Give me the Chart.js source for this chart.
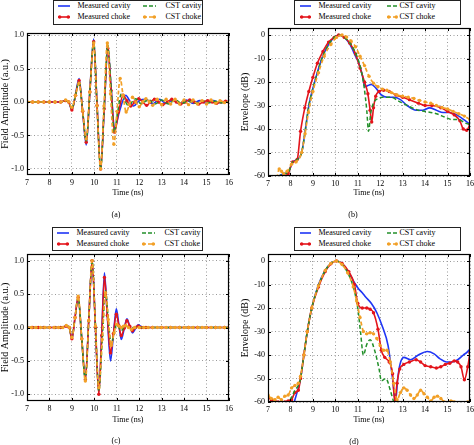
<!DOCTYPE html>
<html>
<head>
<meta charset="utf-8">
<script src="https://cdn.jsdelivr.net/npm/chart.js@4.4.1/dist/chart.umd.min.js"></script>
<style>
  body { margin: 0; background: #fff; }
  #fig { position: relative; width: 474px; height: 445px; overflow: hidden; background: #fff;
         font-family: 'Liberation Serif', 'Times New Roman', serif; color: #000; }
  canvas { position: absolute; }
  .legend { position: absolute; box-sizing: border-box; border: 1.5px solid #222; background: #fff; }
  .legend svg { position: absolute; }
  .legend span, .cap { position: absolute; font-size: 8px; line-height: 10px; white-space: nowrap; }
  .cap { width: 40px; text-align: center; }
</style>
</head>
<body>
<div id="fig">
  <canvas id="chartA" width="237" height="222" style="left:0;top:0"></canvas>
  <canvas id="chartB" width="237" height="222" style="left:237px;top:0"></canvas>
  <canvas id="chartC" width="237" height="223" style="left:0;top:222px"></canvas>
  <canvas id="chartD" width="237" height="223" style="left:237px;top:222px"></canvas>
</div>
<script>
// Series names (legend order)
const seriesLabels = ['Measured cavity', 'Measured choke', 'CST cavity', 'CST choke'];

// Axis ranges
const timeRange = [7, 16];
const ampRangeA = [-1.09, 1.03];
const ampRangeC = [-1.1, 1.1];
const dbRange = [-60, 3];

// ---- (a) field amplitude, first measurement ----
const tA_cav = [7, 8, 8.5, 8.72, 8.86, 9.0, 9.16, 9.32, 9.48, 9.64, 9.8, 9.97, 10.12, 10.28, 10.44, 10.6, 10.75, 10.9, 11.12, 11.4, 11.57, 11.75, 12.0, 12.3, 12.6, 12.9, 13.2, 13.5, 13.8, 14.1, 14.4, 14.7, 15.0, 15.3, 15.6, 15.9, 16];
const vA_cav = [0, 0, 0, 0.02, 0, -0.12, 0.11, 0.35, -0.14, -0.64, 0.15, 0.94, -0.03, -1.0, -0.1, 0.8, 0.2, -0.4, -0.14, 0.1, 0.02, -0.06, 0.02, 0.04, -0.03, 0.04, -0.02, 0.03, -0.03, 0.03, -0.02, 0.02, -0.02, 0.02, -0.01, 0.01, 0];
const tA_choke = [7, 7.25, 7.5, 7.75, 8, 8.25, 8.5, 8.72, 8.86, 9.0, 9.16, 9.32, 9.48, 9.64, 9.8, 9.97, 10.12, 10.28, 10.44, 10.6, 10.75, 10.9, 11.08, 11.28, 11.45, 11.62, 11.8, 11.98, 12.15, 12.33, 12.5, 12.68, 12.85, 13.05, 13.25, 13.45, 13.65, 13.85, 14.05, 14.25, 14.45, 14.65, 14.85, 15.05, 15.25, 15.45, 15.65, 15.85, 16];
const vA_choke = [0, 0, 0, 0, 0, 0, 0, 0.02, 0, -0.12, 0.1, 0.32, -0.14, -0.6, 0.15, 0.9, -0.05, -1.0, -0.1, 0.8, 0.17, -0.45, -0.15, 0.1, 0.02, -0.06, 0, 0.05, 0, -0.05, 0, 0.04, 0, -0.04, 0, 0.04, 0, -0.03, 0, 0.03, 0, -0.03, 0, 0.02, 0, -0.02, 0, 0.01, 0];
const tA_cstCav = [7, 8, 8.5, 8.72, 8.86, 9.0, 9.16, 9.32, 9.48, 9.64, 9.8, 9.97, 10.12, 10.28, 10.44, 10.6, 10.75, 10.88, 11.04, 11.2, 11.35, 11.5, 11.68, 11.85, 12.1, 12.4, 12.7, 13.0, 13.3, 13.6, 13.9, 14.2, 14.5, 14.8, 15.1, 15.4, 15.7, 16];
const vA_cstCav = [0, 0, 0, 0.02, 0, -0.1, 0.1, 0.3, -0.14, -0.58, 0.16, 0.9, -0.05, -1.0, -0.08, 0.85, 0.2, -0.45, -0.15, 0.12, 0.03, -0.05, 0, 0.05, -0.03, 0.04, -0.03, 0.03, -0.03, 0.03, -0.02, 0.02, -0.02, 0.02, -0.01, 0.01, -0.01, 0];
const tA_cstChoke = [7, 7.25, 7.5, 7.75, 8, 8.25, 8.5, 8.72, 8.86, 9.0, 9.16, 9.32, 9.48, 9.64, 9.8, 9.97, 10.12, 10.28, 10.43, 10.58, 10.72, 10.87, 11.01, 11.15, 11.28, 11.42, 11.56, 11.7, 11.85, 12.0, 12.15, 12.3, 12.45, 12.6, 12.8, 13.0, 13.2, 13.4, 13.6, 13.8, 14.0, 14.2, 14.4, 14.6, 14.8, 15.0, 15.2, 15.4, 15.6, 15.8, 16];
const vA_cstChoke = [0, 0, 0, 0, 0, 0, 0, 0.03, 0, -0.08, 0.1, 0.28, -0.13, -0.55, 0.15, 0.88, -0.06, -1.0, -0.06, 0.88, 0.12, -0.63, -0.14, 0.35, 0.1, -0.15, -0.04, 0.07, 0, -0.07, 0, 0.05, 0, -0.05, 0.04, -0.04, 0.04, -0.03, 0.04, -0.03, 0.03, -0.04, 0.03, -0.03, 0.02, -0.03, 0.03, -0.02, 0.02, -0.01, 0];

// ---- (b) envelope, first measurement ----
const tB_cav = [7.2, 7.5, 7.7, 7.9, 8.1, 8.3, 8.5, 8.67, 8.82, 9.08, 9.4, 9.7, 9.95, 10.15, 10.4, 10.65, 10.9, 11.05, 11.2, 11.32, 11.45, 11.6, 11.8, 12.05, 12.3, 12.6, 12.9, 13.2, 13.6, 13.9, 14.2, 14.5, 14.8, 15.1, 15.5, 15.8, 16];
const vB_cav = [-62, -60, -59, -58.5, -54, -53, -50, -40, -30, -20, -10, -4, -1, 0, -1, -4, -9, -12, -17, -22, -21.5, -21, -22.5, -25.5, -26.5, -26.5, -27.5, -30, -32, -32, -31, -32, -33, -33, -34.5, -36.5, -38];
const tB_choke = [7.3, 7.5, 7.7, 7.9, 8.1, 8.3, 8.45, 8.64, 8.82, 9.0, 9.2, 9.45, 9.7, 9.95, 10.15, 10.4, 10.65, 10.9, 11.1, 11.3, 11.45, 11.55, 11.62, 11.7, 11.8, 11.95, 12.15, 12.4, 12.7, 13.0, 13.3, 13.7, 14.0, 14.3, 14.7, 15.0, 15.3, 15.55, 15.7, 15.85, 16];
const vB_choke = [-62, -61, -60, -59, -54, -53, -41, -31, -24, -18, -12, -7, -3, -1, 0, -1, -3.5, -8, -14, -20, -25, -32, -37, -31, -26, -24, -23.5, -24, -25.5, -26.5, -27.5, -29, -30, -30, -31, -32.5, -34, -36.5, -40, -40.5, -38];
const tB_cstCav = [7.2, 7.5, 7.7, 7.9, 8.1, 8.3, 8.5, 8.67, 8.82, 9.08, 9.4, 9.7, 9.95, 10.15, 10.4, 10.7, 11.0, 11.15, 11.28, 11.4, 11.48, 11.58, 11.7, 11.9, 12.1, 12.5, 12.8, 13.2, 13.7, 14.0, 14.5, 14.9, 15.2, 15.5, 15.8, 16];
const vB_cstCav = [-62, -60, -59, -58.5, -54, -53, -50, -40, -30, -20, -10, -4, -1, 0, -1, -4, -10, -15, -22, -32, -41, -33, -29, -27, -26.5, -26.5, -28, -30, -32, -32.5, -33.5, -35, -36, -36, -37.5, -38];
const tB_cstChoke = [7.4, 7.5, 7.6, 7.7, 7.85, 8.05, 8.25, 8.5, 8.65, 8.8, 9.0, 9.25, 9.5, 9.8, 10.05, 10.3, 10.5, 10.7, 10.9, 11.1, 11.3, 11.5, 11.7, 11.9, 12.1, 12.3, 12.5, 12.75, 13.0, 13.25, 13.5, 13.75, 14.0, 14.25, 14.5, 14.75, 15.0, 15.25, 15.5, 15.75, 16];
const vB_cstChoke = [-61, -57, -58, -59, -58, -55, -54, -50, -42, -33, -24, -16, -9, -4, -1, 0, -0.8, -2.5, -5, -9, -13, -17.5, -20.5, -22, -23, -23.5, -24.5, -25.5, -26, -26.5, -27, -27.8, -28.5, -29, -30, -30.8, -31.5, -32.5, -33.5, -34.5, -36];

// ---- (c) field amplitude, second measurement ----
const tC_cav = [7, 8, 8.5, 8.75, 8.88, 9.0, 9.14, 9.28, 9.44, 9.6, 9.75, 9.9, 10.05, 10.2, 10.33, 10.45, 10.58, 10.72, 10.85, 10.98, 11.09, 11.2, 11.33, 11.45, 11.58, 11.7, 11.83, 11.95, 12.1, 12.3, 13, 14, 15, 16];
const vC_cav = [0, 0, 0, 0.02, 0, -0.17, 0.15, 0.45, -0.17, -0.78, 0.1, 1.0, 0, -0.97, -0.08, 0.82, 0.16, -0.5, -0.11, 0.28, 0.05, -0.18, -0.02, 0.13, 0.02, -0.08, -0.02, 0.04, 0.01, 0, 0, 0, 0, 0];
const tC_choke = [7, 7.25, 7.5, 7.75, 8, 8.25, 8.5, 8.75, 8.88, 9.0, 9.14, 9.28, 9.44, 9.6, 9.75, 9.9, 10.05, 10.2, 10.33, 10.45, 10.58, 10.72, 10.85, 10.98, 11.09, 11.2, 11.33, 11.45, 11.58, 11.7, 11.83, 11.95, 12.1, 12.3, 12.6, 13, 13.4, 13.8, 14.2, 14.6, 15, 15.4, 15.8, 16];
const vC_choke = [0, 0, 0, 0, 0, 0, 0, 0.02, 0, -0.17, 0.15, 0.45, -0.17, -0.78, 0.1, 1.0, 0, -1.0, -0.12, 0.75, 0.18, -0.38, -0.09, 0.2, 0.03, -0.12, -0.01, 0.1, 0.02, -0.05, 0, 0.02, 0, 0, 0, 0, 0, 0, 0, 0, 0, 0, 0, 0];
const tC_cstCav = [7, 8, 8.5, 8.75, 8.88, 9.0, 9.14, 9.28, 9.44, 9.6, 9.75, 9.9, 10.05, 10.2, 10.35, 10.5, 10.62, 10.75, 10.88, 11.0, 11.1, 11.2, 11.3, 11.4, 11.6, 12, 13, 14, 15, 16];
const vC_cstCav = [0, 0, 0, 0.03, 0, -0.15, 0.15, 0.45, -0.17, -0.78, 0.1, 1.0, 0.03, -0.95, -0.2, 0.55, 0.13, -0.25, -0.08, 0.05, 0, -0.05, 0, 0.02, 0, 0, 0, 0, 0, 0];
const tC_cstChoke = [7, 7.2, 7.4, 7.6, 7.8, 8, 8.2, 8.4, 8.6, 8.75, 8.88, 9.0, 9.14, 9.28, 9.44, 9.6, 9.75, 9.9, 10.05, 10.2, 10.35, 10.5, 10.62, 10.75, 10.88, 11.0, 11.1, 11.2, 11.3, 11.4, 11.52, 11.65, 11.8, 12.0, 12.2, 12.4, 12.6, 12.8, 13.0, 13.2, 13.4, 13.6, 13.8, 14.0, 14.2, 14.4, 14.6, 14.8, 15.0, 15.2, 15.4, 15.6, 15.8, 16];
const vC_cstChoke = [0, 0, 0, 0, 0, 0, 0, 0, 0, 0.03, 0, -0.15, 0.15, 0.47, -0.17, -0.8, 0.1, 1.0, 0.02, -0.9, -0.18, 0.52, 0.12, -0.27, -0.08, 0.05, 0.02, 0, 0.02, 0.03, 0, -0.03, 0, 0, 0, 0, 0, 0, 0, 0, 0, 0, 0, 0, 0, 0, 0, 0, 0, 0, 0, 0, 0, 0];

// ---- (d) envelope, second measurement ----
const tD_cav = [7.8, 8.0, 8.1, 8.2, 8.35, 8.45, 8.6, 8.75, 8.95, 9.25, 9.55, 9.8, 10.05, 10.3, 10.6, 10.9, 11.05, 11.2, 11.35, 11.6, 11.85, 12.1, 12.35, 12.55, 12.68, 12.78, 12.88, 13.05, 13.35, 13.7, 14.1, 14.4, 14.65, 14.95, 15.2, 15.45, 15.7, 15.85, 16];
const vD_cav = [-66, -64, -62, -59, -54, -50, -40, -30, -20, -10, -4, -1, 0, -1, -5, -10, -12, -13.5, -15.3, -18, -22, -28, -36, -50, -60, -50, -44, -41, -42, -40, -38.5, -39.5, -41.5, -43, -43, -42, -40, -39, -37.5];
const tD_choke = [7.0, 7.15, 7.3, 7.45, 7.6, 7.75, 7.9, 8.05, 8.2, 8.35, 8.45, 8.6, 8.75, 8.95, 9.25, 9.55, 9.8, 10.05, 10.3, 10.6, 10.85, 11.0, 11.2, 11.4, 11.55, 11.7, 11.9, 12.05, 12.2, 12.4, 12.55, 12.65, 12.75, 12.87, 13.05, 13.3, 13.6, 13.8, 14.0, 14.25, 14.5, 14.7, 14.9, 15.1, 15.3, 15.45, 15.6, 15.75, 15.9, 16];
const vD_choke = [-58, -59, -59.5, -60, -60.5, -60, -59.5, -59, -56, -55, -50, -40, -30, -20, -11, -4.5, -1.2, 0, -1, -4.5, -10, -18, -20, -20, -20.5, -22, -29, -38, -41, -43, -48, -60, -52, -46, -44, -43, -42, -43, -44.5, -45, -45.5, -45, -44, -43.5, -42.5, -43, -45, -50.5, -45, -39];
const tD_cstCav = [7.5, 7.7, 7.9, 8.05, 8.2, 8.35, 8.45, 8.6, 8.75, 8.95, 9.25, 9.55, 9.8, 10.05, 10.3, 10.55, 10.8, 11.0, 11.12, 11.25, 11.4, 11.55, 11.75, 11.95, 12.05, 12.25, 12.45, 12.6, 12.75, 12.9];
const vD_cstCav = [-62, -61, -60, -58, -55, -53, -50, -40, -30, -20, -10.5, -4, -1, 0, -1.5, -5, -11, -20, -30, -40, -35.5, -33.5, -38, -46, -51, -50, -55, -60, -64, -66];
const tD_cstChoke = [7.0, 7.15, 7.3, 7.45, 7.6, 7.75, 7.9, 8.05, 8.2, 8.35, 8.45, 8.6, 8.75, 8.95, 9.25, 9.55, 9.8, 10.05, 10.3, 10.55, 10.8, 10.95, 11.1, 11.25, 11.4, 11.55, 11.7, 11.85, 12.0, 12.15, 12.3, 12.45, 12.6, 12.75, 12.9, 13.05, 13.2, 13.35, 13.5, 13.65, 13.8, 13.95, 14.1, 14.25, 14.4, 14.55, 14.7, 14.85, 15.0, 15.15, 15.3, 15.45, 15.6, 15.75, 15.9, 16];
const vD_cstChoke = [-57, -58.5, -59, -58, -59, -57.5, -57, -54, -53, -52, -49, -40, -30, -20, -10.5, -4, -1, 0, -1.5, -5, -11, -17, -24, -30, -31, -30.5, -31, -33, -36, -38, -38, -43, -52, -59, -56, -54, -55, -57, -58.5, -57, -55, -56.5, -58, -59.5, -58, -57.5, -58.5, -60, -61, -59.5, -60, -61.5, -62, -61, -60, -61];

// Colours
const BLUE = '#1f35f5';
const RED = '#e3141b';
const GREEN = '#23902a';
const ORANGE = '#f2a027';
const FONT = "'Liberation Serif', 'Times New Roman', serif";

// line style of each series, same order as seriesLabels
const seriesStyles = [
  { borderColor: BLUE, borderWidth: 1.6, pointRadius: 0, order: 4 },
  { borderColor: RED, borderWidth: 1.6, pointRadius: 1.7, pointBackgroundColor: RED, pointBorderWidth: 0, order: 3 },
  { borderColor: GREEN, borderWidth: 1.5, borderDash: [4, 2.5], pointRadius: 0, order: 2 },
  { borderColor: ORANGE, borderWidth: 1.7, borderDash: [4, 2.5], pointRadius: 1.7, pointBackgroundColor: ORANGE, pointBorderWidth: 0, order: 1 }
];

function makeSets(pairs){
  // pairs: [[t, v], ...] in legend order
  return pairs.map((p, i) => Object.assign({
    label: seriesLabels[i],
    data: p[0].map((t, k) => ({ x: t, y: p[1][k] })),
    cubicInterpolationMode: 'monotone',
    fill: false
  }, seriesStyles[i]));
}

// Black frame round the plot area with small inward ticks, like pgfplots
const framePlugin = {
  id: 'frame',
  afterDraw(chart){
    const { ctx, chartArea: a, scales } = chart;
    ctx.save();
    ctx.strokeStyle = '#000';
    ctx.lineWidth = 1;
    ctx.beginPath();
    scales.x.ticks.forEach(t => {
      const px = Math.round(scales.x.getPixelForValue(t.value)) + 0.5;
      ctx.moveTo(px, a.bottom); ctx.lineTo(px, a.bottom - 3);
      ctx.moveTo(px, a.top); ctx.lineTo(px, a.top + 3);
    });
    scales.y.ticks.forEach(t => {
      const py = Math.round(scales.y.getPixelForValue(t.value)) + 0.5;
      ctx.moveTo(a.left, py); ctx.lineTo(a.left + 3, py);
      ctx.moveTo(a.right, py); ctx.lineTo(a.right - 3, py);
    });
    ctx.stroke();
    ctx.lineWidth = 1.2;
    ctx.strokeRect(Math.round(a.left) + 0.5, Math.round(a.top) + 0.5,
                   Math.round(a.right - a.left) - 1, Math.round(a.bottom - a.top) - 1);
    ctx.restore();
  }
};

function buildChart(id, sets, yRange, yStep, yTitle, yFormat, box){
  return new Chart(document.getElementById(id), {
    type: 'line',
    data: { datasets: sets },
    options: {
      responsive: false,
      animation: false,
      events: [],
      layout: { padding: { top: box.top, right: box.right, left: 0, bottom: 0 } },
      plugins: { legend: { display: false }, tooltip: { enabled: false } },
      scales: {
        x: {
          type: 'linear',
          min: timeRange[0],
          max: timeRange[1],
          ticks: { stepSize: 1, padding: 3, color: '#000', maxRotation: 0, autoSkip: false,
                   font: { family: FONT, size: 8 }, callback: v => String(v) },
          grid: { color: '#9a9a9a', lineWidth: 1, drawTicks: false },
          border: { display: false, dash: [1, 2.5] },
          title: { display: true, text: 'Time (ns)', color: '#000',
                   font: { family: FONT, size: 8, lineHeight: 1 },
                   padding: { top: 0, bottom: box.xTitlePad } },
          afterFit: s => { s.height = box.xHeight; s.paddingLeft = 0; s.paddingRight = 0; }
        },
        y: {
          type: 'linear',
          min: yRange[0],
          max: yRange[1],
          ticks: { stepSize: yStep, includeBounds: false, padding: 3, color: '#000',
                   font: { family: FONT, size: 8 }, callback: yFormat },
          grid: { color: '#9a9a9a', lineWidth: 1, drawTicks: false },
          border: { display: false, dash: [1, 2.5] },
          title: { display: true, text: yTitle, color: '#000',
                   font: { family: FONT, size: 10, lineHeight: 1 },
                   padding: { top: box.yTitlePad, bottom: 0 } },
          afterFit: s => { s.width = box.yWidth; s.paddingTop = 0; s.paddingBottom = 0; }
        }
      }
    },
    plugins: [framePlugin]
  });
}

const ampFormat = v => v.toFixed(1);
const dbFormat = v => String(v);

buildChart('chartA', makeSets([[tA_cav, vA_cav], [tA_choke, vA_choke], [tA_cstCav, vA_cstCav], [tA_cstChoke, vA_cstChoke]]),
  ampRangeA, 0.5, 'Field Amplitude (a.u.)', ampFormat,
  { top: 33, right: 8, yWidth: 27, xHeight: 47, xTitlePad: 25, yTitlePad: 0 });
buildChart('chartB', makeSets([[tB_cav, vB_cav], [tB_choke, vB_choke], [tB_cstCav, vB_cstCav], [tB_cstChoke, vB_cstChoke]]),
  dbRange, 10, 'Envelope (dB)', dbFormat,
  { top: 28, right: 3, yWidth: 31, xHeight: 46, xTitlePad: 25, yTitlePad: 3 });
buildChart('chartC', makeSets([[tC_cav, vC_cav], [tC_choke, vC_choke], [tC_cstCav, vC_cstCav], [tC_cstChoke, vC_cstChoke]]),
  ampRangeC, 0.5, 'Field Amplitude (a.u.)', ampFormat,
  { top: 32, right: 8, yWidth: 27, xHeight: 44, xTitlePad: 21, yTitlePad: 0 });
buildChart('chartD', makeSets([[tD_cav, vD_cav], [tD_choke, vD_choke], [tD_cstCav, vD_cstCav], [tD_cstChoke, vD_cstChoke]]),
  dbRange, 10, 'Envelope (dB)', dbFormat,
  { top: 32, right: 3, yWidth: 31, xHeight: 43, xTitlePad: 21, yTitlePad: 3 });

// ---- legends (two columns, boxed) drawn as HTML ----
function sampleSvg(style, w){
  const dash = style.borderDash ? ' stroke-dasharray="4,2"' : '';
  let s = `<svg width="${w}" height="6" viewBox="0 0 ${w} 6">`;
  s += `<line x1="0" y1="3" x2="${w}" y2="3" stroke="${style.borderColor}" stroke-width="1.6"${dash}/>`;
  if (style.pointRadius > 0){
    s += `<circle cx="1.7" cy="3" r="1.7" fill="${style.borderColor}"/>`;
    s += `<circle cx="${w - 1.7}" cy="3" r="1.7" fill="${style.borderColor}"/>`;
  }
  return s + '</svg>';
}

function addLegend(left, top, width, height, cols){
  // cols: [{sx, sw, tx}, {sx, sw, tx}] sample start, sample width, text start
  const box = document.createElement('div');
  box.className = 'legend';
  box.style.left = left + 'px';
  box.style.top = top + 'px';
  box.style.width = width + 'px';
  box.style.height = height + 'px';
  const rows = [5, 15.5];
  // grid order: row 0 -> cavity entries, row 1 -> choke entries
  const cells = [[0, 0, 0], [2, 0, 1], [1, 1, 0], [3, 1, 1]];
  cells.forEach(([idx, r, c]) => {
    const col = cols[c];
    const svg = document.createElement('div');
    svg.innerHTML = sampleSvg(seriesStyles[idx], col.sw);
    const el = svg.firstChild;
    el.style.left = col.sx + 'px';
    el.style.top = (rows[r] - 3) + 'px';
    box.appendChild(el);
    const txt = document.createElement('span');
    txt.textContent = seriesLabels[idx];
    txt.style.left = col.tx + 'px';
    txt.style.top = (rows[r] - 5) + 'px';
    box.appendChild(txt);
  });
  document.getElementById('fig').appendChild(box);
}

const leftCols = [{ sx: 4, sw: 12, tx: 23.5 }, { sx: 89, sw: 13, tx: 111.5 }];
const rightCols = [{ sx: 4.5, sw: 11, tx: 23.5 }, { sx: 91.5, sw: 11, tx: 104.5 }];
addLegend(53, 0, 150, 24.5, leftCols);
addLegend(294, 0, 167, 24.5, rightCols);
addLegend(52, 227, 151, 23.5, leftCols);
addLegend(294, 227, 167, 24, rightCols);

// ---- sub-figure captions ----
function addCaption(text, cx, cy){
  const c = document.createElement('span');
  c.className = 'cap';
  c.textContent = text;
  c.style.left = (cx - 20) + 'px';
  c.style.top = (cy - 5) + 'px';
  document.getElementById('fig').appendChild(c);
}
addCaption('(a)', 116, 215);
addCaption('(b)', 353, 215);
addCaption('(c)', 116, 441);
addCaption('(d)', 354, 442);
</script>
</body>
</html>
